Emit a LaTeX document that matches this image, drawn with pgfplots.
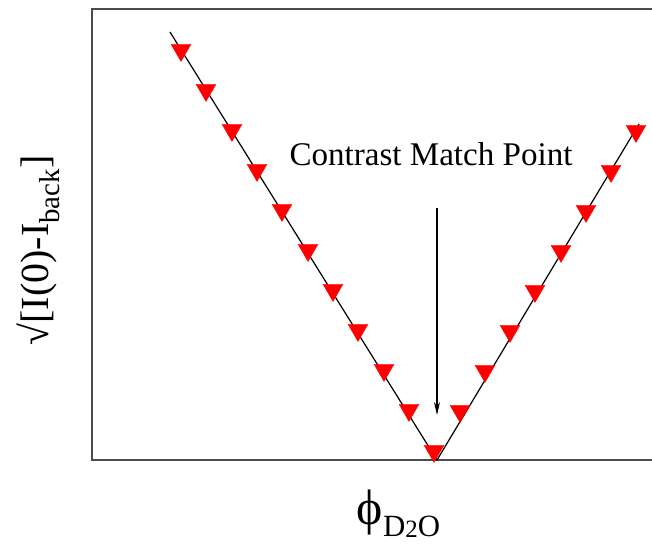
\documentclass[border=0pt]{standalone}
\usepackage{fontspec}
\setmainfont{Liberation Serif}
\usepackage{pgfplots}
\pgfplotsset{compat=1.18}
\usetikzlibrary{arrows.meta}
\definecolor{framegray}{rgb}{0.3,0.3,0.3}
\begin{document}
\begin{tikzpicture}
\path[use as bounding box] (-92bp,-84bp) rectangle (560bp,460bp);
\begin{axis}[
  at={(0,0)}, anchor=south west,
  scale only axis, width=566bp, height=451bp,
  xmin=92, xmax=658, ymin=0, ymax=451,
  xtick=\empty, ytick=\empty,
  axis line style={framegray, line width=1.4bp},
  clip=false,
  ylabel={\fontsize{40}{44}\selectfont √[I(0)-I$_{\mbox{\fontsize{29}{32}\selectfont back}}$]},
  ylabel style={at={(axis description cs:-0.095,0.465)}, anchor=center},
  xlabel={\fontsize{50}{54}\selectfont ϕ$_{\mbox{\fontsize{31}{34}\selectfont D\raisebox{-1bp}{\fontsize{25}{27}\selectfont 2}O}}$},
  xlabel style={at={(axis description cs:0.542,-0.12)}, anchor=center},
]
\addplot[black, line width=1.2bp, no marks] coordinates {(170,428) (437,0) (639,336)};
\addplot[only marks, mark=triangle*, mark size=11.5pt, mark options={rotate=180, fill=red, draw=red}] coordinates {
(181,410) (206,370) (232,330) (257,290) (282,250) (308,210) (333,170) (358,130) (384,90) (409,50) (434,9)
(460,49) (485,89) (510,129) (535,169) (561,209) (586,249) (611,289) (636,329)
};
\draw[black, line width=1.1bp, -{Stealth[length=13bp,width=6bp]}] (axis cs:437,252) -- (axis cs:437,45);
\node[font=\fontsize{33.2}{36}\selectfont] at (axis cs:431,306) {Contrast Match Point};
\end{axis}
\end{tikzpicture}
\end{document}
